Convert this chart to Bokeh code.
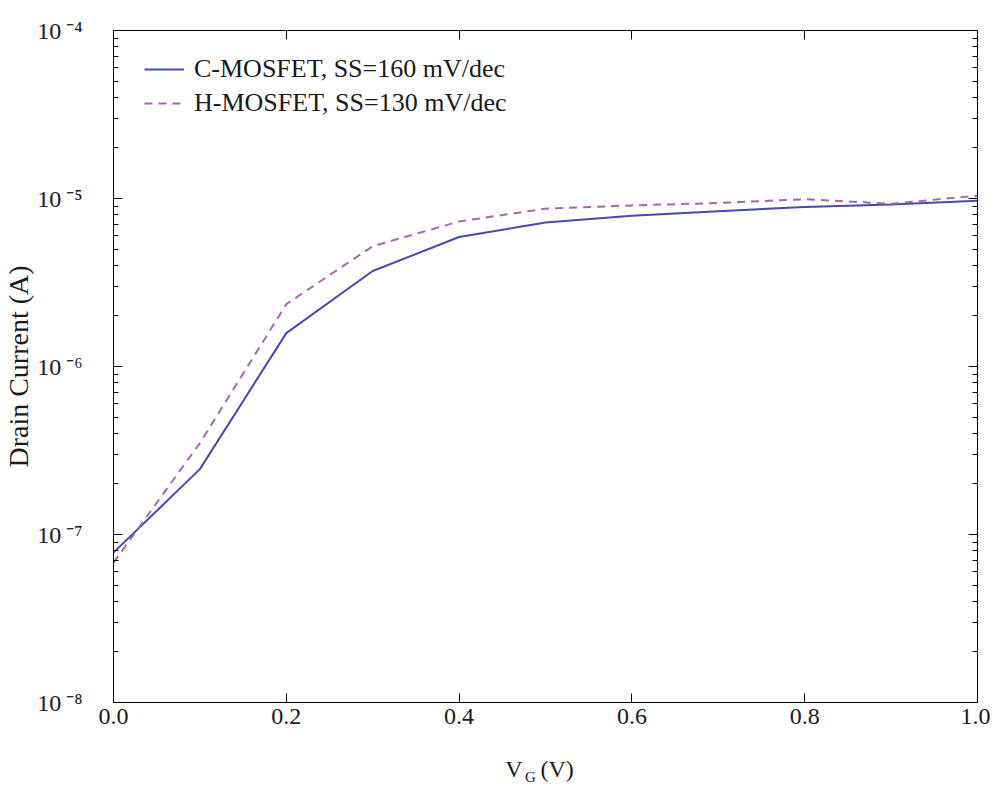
from bokeh.plotting import figure
from bokeh.models import (LinearAxis, LogAxis, FixedTicker, CustomJSTickFormatter,
                          Legend, LegendItem)
from bokeh.embed import file_html
from bokeh.resources import INLINE

# ---- data ----
vg = [0.0, 0.1, 0.2, 0.3, 0.4, 0.5, 0.6, 0.7, 0.8, 0.9, 1.0]
c_mosfet = [7.8e-8, 2.45e-7, 1.58e-6, 3.7e-6, 5.9e-6, 7.2e-6, 7.9e-6, 8.4e-6, 8.9e-6, 9.2e-6, 9.7e-6]
h_mosfet = [6.8e-8, 3.5e-7, 2.35e-6, 5.2e-6, 7.3e-6, 8.7e-6, 9.1e-6, 9.4e-6, 9.9e-6, 9.3e-6, 1.04e-5]
series_names = ["C-MOSFET, SS=160 mV/dec", "H-MOSFET, SS=130 mV/dec"]

x_ticks = [0.0, 0.2, 0.4, 0.6, 0.8, 1.0]
x_tick_labels = ["0.0", "0.2", "0.4", "0.6", "0.8", "1.0"]
y_ticks = [1e-8, 1e-7, 1e-6, 1e-5, 1e-4]
y_tick_labels = ["10\u2009\u207b\u2078", "10\u2009\u207b\u2077", "10\u2009\u207b\u2076",
                 "10\u2009\u207b\u2075", "10\u2009\u207b\u2074"]
y_label = "Drain Current (A)"
NB = "\u00a0"
x_label_main = "V" + NB * 3 + "(V)" + NB * 2      # V_G (V), main part
x_label_sub = "G" + NB * 8                        # subscript G

FONT = "Liberation Serif"
SOLID = "#4848ae"
DASHED = "#a46aa8"
TXT = "#1a1a1a"

y_minor = [k * 10.0 ** d for d in range(-8, -4) for k in range(2, 10)]

p = figure(width=990, height=787, frame_width=864, frame_height=672,
           x_range=(0, 1), y_range=(1e-8, 1e-4), y_axis_type="log",
           output_backend="svg", toolbar_location=None,
           min_border_left=113, min_border_right=13, min_border_top=30, min_border_bottom=85)
p.background_fill_color = "white"
p.border_fill_color = "white"
p.outline_line_color = "black"
p.outline_line_width = 1
p.xgrid.visible = False
p.ygrid.visible = False


def fmt(tv, tl, log=False):
    code = """
    let best = -1, bd = Infinity;
    for (let i = 0; i < tv.length; i++) {
      const d = LOG ? Math.abs(Math.log10(tick) - Math.log10(tv[i])) : Math.abs(tick - tv[i]);
      if (d < bd) { bd = d; best = i; }
    }
    return (bd < 1e-6) ? tl[best] : "";
    """.replace("LOG", "true" if log else "false")
    return CustomJSTickFormatter(args=dict(tv=tv, tl=tl), code=code)


def blank():
    return CustomJSTickFormatter(code="return '';")


xt = FixedTicker(ticks=x_ticks, minor_ticks=[])
yt = FixedTicker(ticks=y_ticks, minor_ticks=y_minor)


def style(ax, labels=True):
    ax.axis_line_color = "black"
    ax.axis_line_width = 1
    ax.major_tick_in = 9
    ax.major_tick_out = 0
    ax.minor_tick_in = 5
    ax.minor_tick_out = 0
    ax.major_tick_line_color = "black"
    ax.minor_tick_line_color = "black"
    ax.major_label_text_font = FONT
    ax.major_label_text_color = TXT
    ax.axis_label_text_font = FONT
    ax.axis_label_text_font_style = "normal"
    ax.axis_label_text_color = TXT
    if not labels:
        ax.major_label_text_font_size = "1px"
        ax.major_label_standoff = 0


xa = p.xaxis[0]
xa.ticker = xt
xa.formatter = fmt(x_ticks, x_tick_labels)
style(xa)
xa.major_label_text_font_size = "24px"
xa.major_label_standoff = 6
xa.axis_label = x_label_main
xa.axis_label_text_font_size = "24px"
xa.axis_label_standoff = 29

# second (invisible) bottom axis that only carries the subscript "G"
sub = LinearAxis(ticker=xt, formatter=blank())
style(sub, labels=False)
sub.axis_line_color = None
sub.major_tick_line_color = None
sub.minor_tick_line_color = None
sub.axis_label = x_label_sub
sub.axis_label_text_font_size = "15px"
sub.axis_label_standoff = -16
p.add_layout(sub, "below")

ya = p.yaxis[0]
ya.ticker = yt
ya.formatter = fmt(y_ticks, y_tick_labels, log=True)
style(ya)
ya.major_label_text_font_size = "24px"
ya.major_label_standoff = 31
ya.axis_label = y_label
ya.axis_label_text_font_size = "28px"
ya.axis_label_standoff = 0

top = LinearAxis(ticker=xt, formatter=blank())
style(top, labels=False)
p.add_layout(top, "above")
right = LogAxis(ticker=yt, formatter=blank())
style(right, labels=False)
p.add_layout(right, "right")

r1 = p.line(vg, c_mosfet, line_color=SOLID, line_width=2)
r2 = p.line(vg, h_mosfet, line_color=DASHED, line_width=2, line_dash="8 6")

legend = Legend(items=[LegendItem(label=series_names[0], renderers=[r1]),
                       LegendItem(label=series_names[1], renderers=[r2])],
                location=(31, 584), padding=0, margin=0, spacing=4,
                glyph_width=40, label_standoff=10,
                label_text_font=FONT, label_text_font_size="26px", label_text_color=TXT,
                border_line_alpha=0, background_fill_alpha=0)
p.add_layout(legend, "center")

open("out.html", "w").write(file_html(p, INLINE))
